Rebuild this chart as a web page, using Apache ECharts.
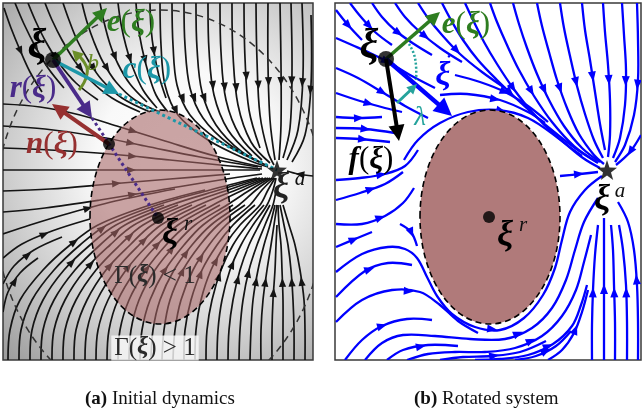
<!DOCTYPE html>
<html><head><meta charset="utf-8">
<script src="https://cdn.jsdelivr.net/npm/echarts@6/dist/echarts.min.js"></script>
<style>html,body{margin:0;padding:0;background:#fff}#c{width:642px;height:414px}</style>
</head><body><div id="c"></div><script>
// ---------------- DATA (panel coordinates) ----------------
// Left panel: streamlines from the top edge
const leftTopLines = [
  [[160,3],[161,45],[165,85],[178,115],[208,140],[248,160],[268,167]],
  [[172,3],[173,45],[177,85],[190,115],[218,140],[255,160]],
  [[184,3],[185,45],[190,88],[203,118],[230,145],[262,163]],
  [[196,3],[197,48],[202,92],[216,125],[242,152],[268,166]],
  [[208,3],[209,50],[214,95],[228,130],[252,156]],
  [[220,3],[221,52],[226,100],[240,136],[262,160]],
  [[232,3],[233,55],[238,105],[251,142],[270,163]],
  [[244,3],[245,58],[249,110],[260,148]],
  [[256,3],[257,60],[260,115],[268,152],[274,165]],
  [[268,3],[268,65],[270,120],[275,160]],
  [[280,3],[281,65],[281,125],[279,160]],
  [[291,3],[292,70],[290,128],[283,158]],
  [[302,3],[303,75],[298,130],[287,160]],
  [[311,15],[311,85],[305,135],[292,162]]
];
// Left panel: slanted streamlines in the upper-left
const leftSlantLines = [
  [[4,8],[11,28],[20,50],[30,72],[42,92]],
  [[15,3],[24,24],[35,46],[48,68],[64,88]],
  [[28,3],[36,22],[46,42],[59,63],[76,83],[98,100]],
  [[45,3],[52,20],[62,40],[74,60],[90,80],[112,98],[140,112]],
  [[63,3],[69,20],[77,40],[88,60],[102,80],[122,98],[150,112]],
  [[82,3],[87,22],[94,42],[103,62],[116,82],[135,100],[160,112]],
  [[100,3],[104,22],[110,44],[118,64],[130,84],[147,102]],
  [[118,3],[121,24],[126,46],[133,68],[143,90],[157,108]],
  [[136,3],[138,25],[142,48],[148,72],[156,95],[168,112]],
  [[150,3],[151,28],[154,52],[159,76],[166,98]]
];
// Left panel: streamlines entering from the left edge
const leftEdgeLines = [
  [[3,104],[40,107],[80,115],[120,127],[165,141],[215,156],[262,167]],
  [[3,126],[45,129],[95,136],[145,146],[200,157],[258,167]],
  [[3,148],[50,150],[110,154],[170,160],[230,166],[262,169]],
  [[3,170],[60,170],[130,170],[200,170],[260,170]],
  [[3,191],[50,189],[110,184],[170,179],[230,174]],
  [[3,212],[45,208],[100,200],[160,190],[220,180],[262,174]],
  [[3,234],[30,225],[70,213],[120,200],[175,189]],
  [[3,258],[22,244],[52,231],[90,219]],
  [[3,284],[14,266],[34,250],[62,237]],
  [[3,312],[8,292],[20,273],[38,258]]
];
// Left panel: streamlines entering from the bottom edge (x at each height)
const bottomHeights = [360,330,300,270,245,225,205,190,178];
const leftBottomLinesX = [
  [8,10,20,43,70,98,150,205],
  [19,21,32,54,80,107,157,210,257],
  [30,32,43,64,90,116,164],
  [41,43,54,75,100,125,171,219,260],
  [52,54,65,85,110,134,178],
  [63,65,76,96,120,143,185,228,263],
  [74,76,87,106,130,152,192],
  [85,87,97,116,139,161,199,236,266],
  [96,98,108,126,148,170,206],
  [107,109,118,136,157,178,213,243,268],
  [118,120,129,146,166,187,220],
  [129,131,139,155,175,195,227,250,270],
  [140,142,150,165,184,203,233],
  [151,153,160,174,192,211,239,256,272],
  [162,164,170,183,200,218,245],
  [173,175,181,193,209,226,250,262,274],
  [184,185,191,202,217,233,255],
  [195,196,201,211,225,240,260,268,275],
  [206,207,212,221,233,247,264],
  [217,218,222,230,241,253,267,273,276],
  [228,229,233,240,249,259,270],
  [239,240,243,249,257,265,273,276],
  [250,251,253,258,264,270,275],
  [261,261,263,267,271,274,277],
  [272,272,273,275,276,277],
  [283,283,283,282,281,279,278],
  [294,294,293,291,288,284,280],
  [305,305,304,300,295,289,283]
];
// Left panel: streamlines from the right edge
const leftRightEdgeLines = [
  [[313,176],[298,174],[287,171]]
];
// Right panel streamlines
const rightLines = [
  [[336,10],[348,25],[362,40]],
  [[350,3],[361,17],[375,32],[392,45]],
  [[372,3],[382,17],[396,31],[414,44],[432,55]],
  [[395,3],[405,17],[420,32],[440,48],[462,62]],
  [[418,3],[428,18],[442,35],[460,54],[482,72],[505,88]],
  [[442,3],[451,20],[463,40],[478,60],[497,80],[520,102],[548,127],[575,148],[598,163]],
  [[465,3],[473,20],[484,42],[497,64],[513,88],[532,112],[556,136],[582,156]],
  [[490,3],[497,22],[507,45],[519,70],[534,96],[552,122],[574,146],[597,162]],
  [[513,3],[519,24],[527,48],[537,74],[549,100],[564,126],[582,148],[600,162]],
  [[537,3],[542,26],[549,52],[557,80],[567,108],[579,134],[594,155],[604,164]],
  [[560,3],[564,28],[570,56],[577,86],[585,114],[594,140],[603,158]],
  [[582,3],[585,30],[590,60],[595,92],[600,124],[605,150]],
  [[603,3],[605,32],[608,65],[610,100],[610,135],[608,157]],
  [[622,3],[624,35],[626,70],[625,105],[620,138],[613,158]],
  [[637,3],[638,40],[638,80],[634,115],[625,145],[615,162]],
  [[336,38],[352,45],[370,53],[388,62],[410,75],[435,88]],
  [[336,68],[358,78],[382,92],[405,106],[428,118]],
  [[336,93],[360,101],[385,108],[402,112]],
  [[336,117],[358,118],[382,117]],
  [[336,128],[365,129],[395,133]],
  [[336,138],[360,139],[390,142]],
  [[404,160],[418,140],[440,123],[468,112],[498,110],[528,118],[558,138],[583,158],[600,168]],
  [[455,75],[480,82],[505,92],[528,106],[548,122]],
  [[440,95],[467,94],[500,100],[528,112],[545,123]],
  [[336,180],[360,178],[385,174],[405,166],[418,150]],
  [[336,200],[360,193],[385,184],[403,172]],
  [[336,224],[362,224],[385,216],[403,203],[414,188]],
  [[336,247],[355,239],[372,232]],
  [[400,224],[411,232],[417,246]],
  [[336,272],[362,254],[388,247],[405,249],[417,258],[427,277],[437,296],[452,314],[475,327],[500,330],[524,318],[543,295],[555,268],[562,240],[570,212],[585,190],[602,176]],
  [[336,297],[365,271],[388,263],[412,265]],
  [[336,322],[362,300],[392,290],[420,292],[440,305],[458,321],[478,333]],
  [[345,360],[362,340],[382,326],[407,319],[432,320]],
  [[365,360],[382,343],[403,335],[435,336],[470,339],[505,339],[532,328],[552,308],[566,280],[575,250],[584,222],[598,198]],
  [[387,360],[403,350],[428,345],[458,346]],
  [[407,360],[428,354],[455,352],[485,352],[515,348],[542,336],[562,316],[576,290],[584,262],[591,235]],
  [[440,360],[463,357],[492,356],[520,352],[546,341]],
  [[475,360],[500,359],[528,355],[553,344],[572,326],[581,305],[587,285]],
  [[515,360],[536,356],[556,346],[571,331]],
  [[548,360],[562,350],[574,333],[582,312],[588,290]],
  [[592,360],[592,325],[593,290],[595,255],[598,225]],
  [[604,360],[604,322],[604,285],[604,250],[604,218]],
  [[615,360],[615,322],[614,285],[613,250],[611,225]],
  [[627,360],[627,322],[626,285],[623,250],[619,225]],
  [[638,360],[638,322],[637,285],[634,250],[628,222],[618,202]],
  [[560,176],[580,174],[598,172]],
  [[641,135],[630,152],[616,165]]
];
// Obstacles [cx, cy, rx, ry]
const obstacleLeft = [160,217,70,107];
const obstacleRight = [490,217,70,107];
const gammaLevelLeft = [160,210,165,200];
// Points
const xiLeft = [53,60], nPointLeft = [109,144], xiRLeft = [158,218], xiALeft = [277,170];
const xiRight = [386,59], xiRRight = [489,217], xiARight = [607,170];
// Vectors [x0,y0,x1,y1]
const vectorNamesLeft = ['e','c','r','n'];
const vectorsLeft = [[53,60,107,8],[53,60,119,94],[53,60,92,118],[109,144,52,104]];
const vectorNamesRight = ['e','xidot','f','lambda'];
const vectorsRight = [[386,59,440,12],[386,59,452,116],[386,59,399,141],[397,103,417,84]];
const dottedLeft = [[119,94,277,170],[92,118,158,218]];
const bArcLeft = [[79,90],[87,74],[84,62],[75,53]];
const lambdaArcRight = [[409,44],[415,58],[416,80]];
// Labels [text, x, y, style]
const labelsLeft = [
  ['{i|ξ}',37,47,'xi'],
  ['{i|e}{p|(}{i|ξ}{p|)}',131,23,'green'],
  ['{t|b}',93,64,'olive'],
  ['{i|c}{p|(}{i|ξ}{p|)}',147,70,'teal'],
  ['{i|r}{p|(}{i|ξ}{p|)}',33,89,'purple'],
  ['{i|n}{p|(}{i|ξ}{p|)}',52,145,'red'],
  ['{i|ξ}',170,234,'xiMid'],['{t|r}',188,224,'sup'],
  ['{i|ξ}',281,188,'xiMidGray'],['{t|a}',300,179,'sup'],
  ['{p|Γ(}{i|ξ}{p|) < 1}',155,276,'gamma'],
  ['{p|Γ(}{i|ξ}{p|) > 1}',155,348,'gammaBg']
];
const labelsRight = [
  ['{i|ξ}',369,47,'xi'],
  ['{i|e}{p|(}{i|ξ}{p|)}',466,25,'green'],
  ['{i|ξ}',443,76,'blue'],['{p|•}',449,57,'blueDot'],
  ['{t|λ}',420,118,'lambda'],
  ['{i|f}{p|(}{i|ξ}{p|)}',371,160,'black'],
  ['{i|ξ}',505,236,'xiMid'],['{t|r}',523,225,'sup'],
  ['{i|ξ}',602,200,'xiMid'],['{t|a}',620,191,'sup']
];
const captions = ['(a)','Initial dynamics','(b)','Rotated system'];

// ---------------- STYLES ----------------
const SERIF = 'Liberation Serif';
const vecStyle = {
  e:{color:'#2e7d20',w:3.5,h:14}, c:{color:'#1c97a8',w:3.5,h:15}, r:{color:'#4a2b8a',w:3.8,h:16},
  n:{color:'#963030',w:4,h:16}, xidot:{color:'#0000ff',w:4.5,h:18}, f:{color:'#000',w:4,h:16},
  lambda:{color:'#25a39c',w:3,h:10}
};
const labelStyles = {
  xi:{size:42,color:'#000'}, xiMid:{size:36,color:'#000'}, xiMidGray:{size:36,color:'#222'}, sup:{size:21,color:'#111'},
  green:{size:31,color:'#2e7d20'}, olive:{size:24,color:'#6b8e2a'}, teal:{size:31,color:'#1c97a8'},
  purple:{size:31,color:'#4a2b8a'}, red:{size:31,color:'#963030'},
  gamma:{size:25,color:'#2a2a2a'}, gammaBg:{size:25,color:'#2a2a2a',bg:'rgba(250,250,250,0.8)'},
  blue:{size:34,color:'#0000ff'}, blueDot:{size:11,color:'#0000ff'}, lambda:{size:27,color:'#25a39c'},
  black:{size:31,color:'#000'}
};
function makeRich(st){
  return {
    i:{fontFamily:SERIF,fontWeight:'bold',fontStyle:'italic',fontSize:st.size,fill:st.color},
    p:{fontFamily:SERIF,fontSize:st.size,fill:st.color},
    t:{fontFamily:SERIF,fontStyle:'italic',fontSize:st.size,fill:st.color}
  };
}
function head(tip, ang, len, half){
  const bx = tip[0]-len*Math.cos(ang), by = tip[1]-len*Math.sin(ang);
  const nx = -Math.sin(ang)*half, ny = Math.cos(ang)*half;
  return [tip,[bx+nx,by+ny],[bx-nx,by-ny]];
}
function streamSeries(lines, axis, color, width, hl, hw, z){
  return {
    type:'custom', xAxisIndex:axis, yAxisIndex:axis, z:z, clip:true, silent:true,
    data: lines.map((l,i)=>[l[0][0],l[0][1],i]), encode:{x:0,y:1},
    renderItem:function(params, api){
      const pts = lines[params.dataIndex].map(p=>api.coord(p));
      const seg=[]; let L=0;
      for(let i=1;i<pts.length;i++){const d=Math.hypot(pts[i][0]-pts[i-1][0],pts[i][1]-pts[i-1][1]);seg.push(d);L+=d;}
      let target=L*0.5, acc=0, k=0;
      while(k<seg.length-1 && acc+seg[k]<target){acc+=seg[k];k++;}
      const t=(target-acc)/seg[k], a=pts[k], b=pts[k+1];
      const ang=Math.atan2(b[1]-a[1],b[0]-a[0]);
      const mx=a[0]+(b[0]-a[0])*t+Math.cos(ang)*hl/2, my=a[1]+(b[1]-a[1])*t+Math.sin(ang)*hl/2;
      return {type:'group',children:[
        {type:'polyline',shape:{points:pts,smooth:0.35},style:{stroke:color,lineWidth:width,fill:null}},
        {type:'polygon',shape:{points:head([mx,my],ang,hl,hw)},style:{fill:color}}
      ]};
    }
  };
}
function ellipseSeries(ell, axis, style, z){
  return {
    type:'custom', xAxisIndex:axis, yAxisIndex:axis, z:z, clip:true, silent:true,
    data:[[ell[0],ell[1]]], encode:{x:0,y:1},
    renderItem:function(params, api){
      const c = api.coord([ell[0],ell[1]]); const s = api.size([ell[2],ell[3]]);
      return {type:'ellipse',shape:{cx:c[0],cy:c[1],rx:s[0],ry:s[1]},style:style};
    }
  };
}
function vectorSeries(vecs, names, axis, z){
  return {
    type:'custom', xAxisIndex:axis, yAxisIndex:axis, z:z, silent:true,
    data: vecs.map((v,i)=>[v[0],v[1],i]), encode:{x:0,y:1},
    renderItem:function(params, api){
      const v=vecs[params.dataIndex], st=vecStyle[names[params.dataIndex]];
      const p0=api.coord([v[0],v[1]]), p1=api.coord([v[2],v[3]]);
      const ang=Math.atan2(p1[1]-p0[1],p1[0]-p0[0]);
      const sx=p1[0]-Math.cos(ang)*st.h*0.8, sy=p1[1]-Math.sin(ang)*st.h*0.8;
      return {type:'group',children:[
        {type:'line',shape:{x1:p0[0],y1:p0[1],x2:sx,y2:sy},style:{stroke:st.color,lineWidth:st.w}},
        {type:'polygon',shape:{points:head(p1,ang,st.h,st.h*0.5)},style:{fill:st.color}}
      ]};
    }
  };
}
function dottedSeries(segs, colors, axis, z){
  return {
    type:'custom', xAxisIndex:axis, yAxisIndex:axis, z:z, silent:true,
    data: segs.map((v,i)=>[v[0],v[1],i]), encode:{x:0,y:1},
    renderItem:function(params, api){
      const v=segs[params.dataIndex];
      const p0=api.coord([v[0],v[1]]), p1=api.coord([v[2],v[3]]);
      return {type:'line',shape:{x1:p0[0],y1:p0[1],x2:p1[0],y2:p1[1]},
        style:{stroke:colors[params.dataIndex],lineWidth:3,lineDash:[3,3]}};
    }
  };
}
function arcSeries(pts, axis, color, width, dash, hl, z){
  return {
    type:'custom', xAxisIndex:axis, yAxisIndex:axis, z:z, silent:true,
    data:[[pts[0][0],pts[0][1]]], encode:{x:0,y:1},
    renderItem:function(params, api){
      const p=pts.map(q=>api.coord(q));
      const ch=[{type:'polyline',shape:{points:p,smooth:0.5},style:{stroke:color,lineWidth:width,lineDash:dash,fill:null}}];
      if(hl){const a=p[p.length-2],b=p[p.length-1];const ang=Math.atan2(b[1]-a[1],b[0]-a[0]);
        ch.push({type:'polygon',shape:{points:head([b[0]+Math.cos(ang)*4,b[1]+Math.sin(ang)*4],ang,hl,hl*0.55)},style:{fill:color}});}
      return {type:'group',children:ch};
    }
  };
}
function labelSeries(labels, axis, z){
  return {
    type:'custom', xAxisIndex:axis, yAxisIndex:axis, z:z, silent:true,
    data: labels.map((l,i)=>[l[1],l[2],i]), encode:{x:0,y:1},
    renderItem:function(params, api){
      const l=labels[params.dataIndex], st=labelStyles[l[3]], p=api.coord([l[1],l[2]]);
      const style={text:l[0],rich:makeRich(st),fontSize:st.size,fontFamily:SERIF,fill:st.color,align:'center',verticalAlign:'middle'};
      if(st.bg){style.backgroundColor=st.bg;style.padding=[0,3,0,3];}
      return {type:'text',x:p[0],y:p[1],style:style};
    }
  };
}
const STAR='path://M0,-10L2.35,-3.24L9.51,-3.09L3.8,1.24L5.88,8.09L0,4L-5.88,8.09L-3.8,1.24L-9.51,-3.09L-2.35,-3.24Z';

const leftStreams = [].concat(leftTopLines, leftSlantLines, leftEdgeLines,
  leftBottomLinesX.map(xs=>xs.map((x,i)=>[x,bottomHeights[i]])), leftRightEdgeLines);

const capStyle = {fontFamily:SERIF,fontSize:19,fontWeight:'normal',color:'#111',rich:{b:{fontFamily:SERIF,fontSize:19,fontWeight:'bold',color:'#111'}}};
const option = {
  animation:false,
  backgroundColor:'#ffffff',
  grid:[
    {left:3,top:3,width:310,height:357,show:true,borderColor:'#3a3a3a',borderWidth:1.5,
     backgroundColor:new echarts.graphic.RadialGradient(0.6,0.45,0.85,[
       {offset:0,color:'#ffffff'},{offset:0.35,color:'#f9f9f9'},{offset:0.7,color:'#cbcbcb'},{offset:1,color:'#9e9e9e'}])},
    {left:335,top:3,width:306,height:357,show:true,borderColor:'#3a3a3a',borderWidth:1.5,backgroundColor:'#ffffff'}
  ],
  xAxis:[
    {type:'value',gridIndex:0,min:3,max:313,show:false},
    {type:'value',gridIndex:1,min:335,max:641,show:false}
  ],
  yAxis:[
    {type:'value',gridIndex:0,min:3,max:360,inverse:true,show:false},
    {type:'value',gridIndex:1,min:3,max:360,inverse:true,show:false}
  ],
  title:[
    {text:'{b|'+captions[0]+'} '+captions[1],left:80,top:385,textStyle:capStyle},
    {text:'{b|'+captions[2]+'} '+captions[3],left:409,top:385,textStyle:capStyle}
  ],
  series:[
    streamSeries(leftStreams,0,'#141414',1.7,9,3.6,2),
    ellipseSeries(obstacleLeft,0,{fill:'rgba(165,100,100,0.58)',stroke:'#000',lineWidth:1.6,lineDash:[6,4]},3),
    ellipseSeries(gammaLevelLeft,0,{fill:null,stroke:'#333',lineWidth:1.5,lineDash:[7,5]},4),
    dottedSeries(dottedLeft,['#1c97a8','#4a2b8a'],0,5),
    arcSeries(bArcLeft,0,'#6b8e2a',3,null,11,6),
    vectorSeries(vectorsLeft,vectorNamesLeft,0,6),
    {type:'scatter',xAxisIndex:0,yAxisIndex:0,z:7,silent:true,itemStyle:{color:'#000'},
     data:[{value:xiLeft,symbolSize:16},{value:nPointLeft,symbolSize:12},{value:xiRLeft,symbolSize:12}]},
    {type:'scatter',xAxisIndex:0,yAxisIndex:0,z:7,silent:true,symbol:STAR,symbolSize:20,itemStyle:{color:'#000'},data:[xiALeft]},
    labelSeries(labelsLeft,0,8),

    streamSeries(rightLines,1,'#0000ff',2.3,10,4,2),
    ellipseSeries(obstacleRight,1,{fill:'#b07a7a',stroke:'#000',lineWidth:1.6,lineDash:[6,4]},3),
    arcSeries(lambdaArcRight,1,'#25a39c',2.5,[2,2],0,5),
    vectorSeries(vectorsRight,vectorNamesRight,1,6),
    {type:'scatter',xAxisIndex:1,yAxisIndex:1,z:7,silent:true,itemStyle:{color:'#000'},
     data:[{value:xiRight,symbolSize:16},{value:xiRRight,symbolSize:12}]},
    {type:'scatter',xAxisIndex:1,yAxisIndex:1,z:7,silent:true,symbol:STAR,symbolSize:20,itemStyle:{color:'#000'},data:[xiARight]},
    labelSeries(labelsRight,1,8)
  ]
};
const chart = echarts.init(document.getElementById('c'));
chart.setOption(option);
</script></body></html>
